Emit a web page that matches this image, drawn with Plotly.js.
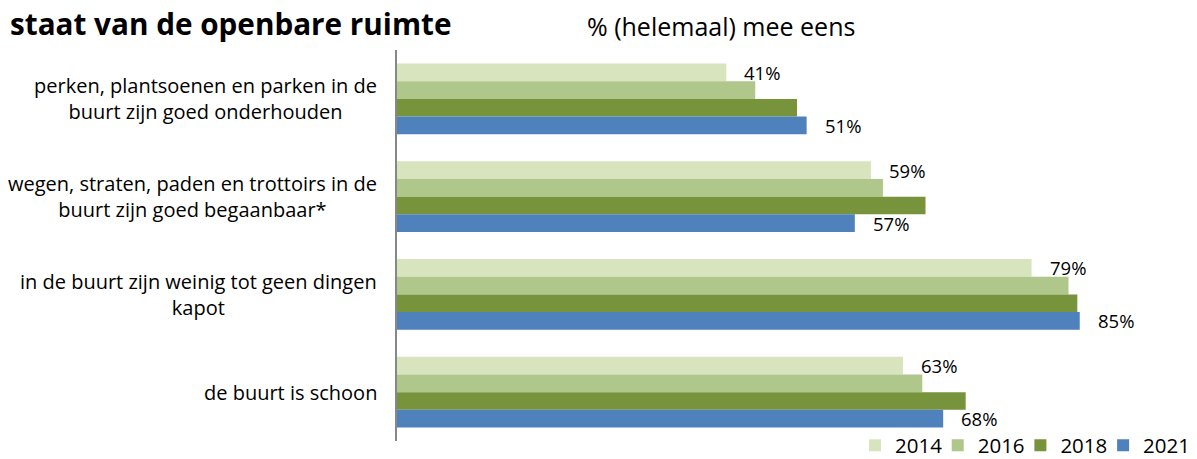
<!DOCTYPE html>
<html>
<head>
<meta charset="utf-8">
<script src="https://cdn.plot.ly/plotly-3.0.1.min.js"></script>
<style>
  html, body { margin: 0; padding: 0; background: #ffffff; }
  #chart { width: 1197px; height: 459px; }
</style>
</head>
<body>
<div id="chart"></div>
<script>
// Statements about the public space, share (fully) agreeing, per survey year
const categories = [
  "perken, plantsoenen en parken in de<br>buurt zijn goed onderhouden",
  "wegen, straten, paden en trottoirs in de<br>buurt zijn goed begaanbaar*",
  "in de buurt zijn weinig tot geen dingen<br>kapot",
  "de buurt is schoon"
];
const years = ["2014", "2016", "2018", "2021"];
const values2014 = [41, 59, 79, 63];
const values2016 = [44.6, 60.5, 83.6, 65.4];
const values2018 = [49.8, 65.8, 84.7, 70.8];
const values2021 = [51, 57, 85, 68];
const seriesValues = [values2014, values2016, values2018, values2021];
const seriesColors = ["#D7E4BD", "#AFC78A", "#77933C", "#4F81BD"];
// only the first and last year carry value labels
const labelledSeries = [0, 3];

const FONT = "Open Sans, Noto Sans, sans-serif";
const W = 1197, H = 459;
const M = { l: 397, r: 0, t: 50, b: 18 };
const plotW = W - M.l - M.r, plotH = H - M.t - M.b;

const yIdx = categories.map((c, i) => i);

const traces = seriesValues.map((vals, s) => ({
  type: "bar",
  orientation: "h",
  name: years[s],
  x: vals,
  y: yIdx,
  marker: { color: seriesColors[s], line: { width: 0 } },
  hoverinfo: "x+name"
}));

const annotations = [];

// value labels just beyond the bar ends
const nSeries = seriesValues.length;
const bargap = 0.274;
const barWidth = (1 - bargap) / nSeries;
labelledSeries.forEach(s => {
  seriesValues[s].forEach((v, i) => {
    const offset = -(1 - bargap) / 2 + barWidth * (s + 0.5);
    annotations.push({
      x: v, y: i + offset, xref: "x", yref: "y",
      text: Math.round(v) + "%",
      showarrow: false, xanchor: "left", yanchor: "middle",
      xshift: 16,
      font: { family: FONT, size: 18.5, color: "#000000" }
    });
  });
});

// category labels: a right-aligned block left of the axis, lines centred within it
categories.forEach((c, i) => {
  annotations.push({
    x: 0, y: i, xref: "paper", yref: "y",
    text: c, showarrow: false, xanchor: "right", yanchor: "middle",
    align: "center", xshift: -18,
    font: { family: FONT, size: 20, color: "#000000" }
  });
});

// heading and unit line (pixel positions converted to paper fractions)
annotations.push({
  x: (8 - M.l) / plotW, y: (H - M.b - 24) / plotH, xref: "paper", yref: "paper",
  text: "<b>staat van de openbare ruimte</b>",
  showarrow: false, xanchor: "left", yanchor: "middle",
  font: { family: FONT, size: 29.7, color: "#000000" }
});
annotations.push({
  x: (585 - M.l) / plotW, y: (H - M.b - 26) / plotH, xref: "paper", yref: "paper",
  text: "% (helemaal) mee eens", showarrow: false, xanchor: "left", yanchor: "middle",
  font: { family: FONT, size: 25, color: "#000000" }
});

const layout = {
  width: W,
  height: H,
  margin: { l: M.l, r: M.r, t: M.t, b: M.b, autoexpand: false },
  paper_bgcolor: "#ffffff",
  plot_bgcolor: "#ffffff",
  barmode: "group",
  bargap: bargap,
  bargroupgap: 0,
  showlegend: true,
  legend: {
    orientation: "h",
    x: (1186 - M.l) / plotW, xanchor: "right",
    y: -(445.5 - (H - M.b)) / plotH, yanchor: "middle",
    traceorder: "normal",
    font: { family: FONT, size: 20.5, color: "#000000" },
    itemwidth: 30,
    entrywidth: 37.7,
    entrywidthmode: "pixels",
    bgcolor: "rgba(0,0,0,0)"
  },
  xaxis: {
    range: [0, 99.6],
    visible: false,
    fixedrange: true
  },
  yaxis: {
    type: "linear",
    range: [3.5, -0.5],
    showticklabels: false,
    showgrid: false,
    zeroline: false,
    showline: true,
    linecolor: "#878787",
    linewidth: 2,
    ticks: "",
    fixedrange: true
  },
  annotations: annotations
};

Plotly.newPlot("chart", traces, layout, { displayModeBar: false, staticPlot: true });
</script>
</body>
</html>
